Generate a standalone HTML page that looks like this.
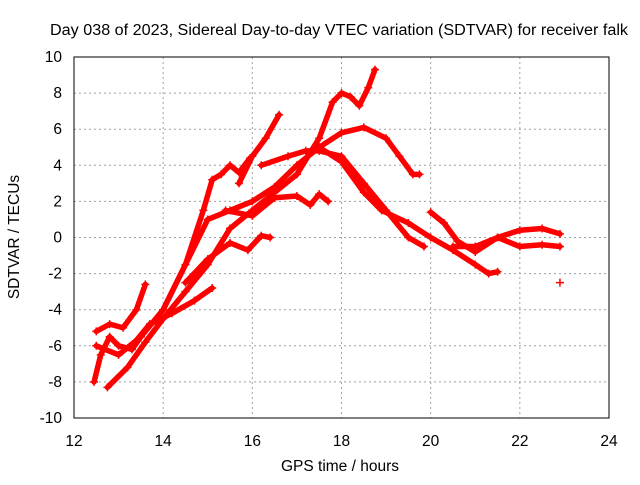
<!DOCTYPE html>
<html><head><meta charset="utf-8"><style>
body{margin:0;background:#fff}
svg text{font-family:"Liberation Sans",sans-serif;font-size:15.5px;fill:#000}
</style></head><body>
<svg id="chart" width="640" height="480" xmlns="http://www.w3.org/2000/svg">
<rect width="640" height="480" fill="#fff"/>
<text x="50" y="35" textLength="578" lengthAdjust="spacingAndGlyphs">Day 038 of 2023, Sidereal Day-to-day VTEC variation (SDTVAR) for receiver falk</text>
<text x="340" y="471" text-anchor="middle">GPS time / hours</text>
<text transform="translate(19,237) rotate(-90)" text-anchor="middle">SDTVAR / TECUs</text>
<g id="grid"></g>
<g id="ticks"></g>
<g id="series"></g>
<rect x="74" y="57" width="535" height="361" fill="none" stroke="#000" stroke-width="1"/>
</svg>
<script>
const xTicks=[12,14,16,18,20,22,24];
const yTicks=[-10,-8,-6,-4,-2,0,2,4,6,8,10];
const s1=[[12.75,-8.3],[13.2,-7.2],[13.6,-5.8],[14,-4.5],[14.5,-3],[15,-1.5],[15.5,0.5],[16,1.5],[16.5,2.5],[17,3.5],[17.5,5.5],[17.8,7.5],[18,8],[18.2,7.8],[18.4,7.3],[18.6,8.3],[18.75,9.3]];
const s2=[[12.5,-6],[13,-6.5],[13.5,-5.5],[14,-4],[14.5,-1.5],[15,1],[15.5,1.5],[16,2],[16.5,2.8],[17,4],[17.5,5],[18,5.8],[18.5,6.1],[19,5.5],[19.3,4.5],[19.6,3.5],[19.75,3.5]];
const s3=[[14,-4],[14.5,-1.5],[14.9,1.5],[15.1,3.2],[15.3,3.5],[15.5,4],[15.7,3.6],[15.95,4.4]];
const s4=[[15.7,3],[16,4.5],[16.3,5.5],[16.6,6.8]];
const s5=[[15.4,1.5],[16,1.2],[16.5,2.2],[17,2.3],[17.3,1.8],[17.5,2.4],[17.7,2]];
const s6=[[14.5,-2.5],[15,-1.2],[15.5,-0.3],[15.9,-0.7],[16.2,0.1],[16.4,0]];
const s7=[[13.3,-6],[13.7,-4.8],[14.2,-4.2],[14.7,-3.5],[15.1,-2.8]];
const s8=[[16.2,4],[16.8,4.5],[17.2,4.8],[17.5,4.8],[18,4.5],[18.5,3],[19,1.5],[19.5,0],[19.85,-0.5]];
const s9=[[17.5,5],[18,4.2],[18.5,2.5],[18.9,1.5],[19.5,0.8],[20,0],[20.5,-0.7],[21,-1.5],[21.3,-2],[21.5,-1.9]];
const s10=[[20,1.4],[20.3,0.8],[20.6,-0.2],[21,-0.8],[21.5,0],[22,0.4],[22.5,0.5],[22.9,0.2]];
const s11=[[20.5,-0.5],[21,-0.5],[21.5,0],[22,-0.5],[22.5,-0.4],[22.9,-0.5]];
const s12=[[12.45,-8],[12.6,-6.5],[12.8,-5.5],[13,-6],[13.3,-6.2],[13.5,-5.5]];
const s13=[[12.5,-5.2],[12.8,-4.8],[13.1,-5],[13.4,-4],[13.6,-2.6]];
const s14=[[22.9,-2.5]];
const allSeries=[s1,s2,s3,s4,s5,s6,s7,s8,s9,s10,s11,s12,s13,s14];
const NS="http://www.w3.org/2000/svg";
const X0=74,X1=609,Y0=418,Y1=57;
const xs=v=>X0+(v-12)/12*(X1-X0);
const ys=v=>Y0-(v+10)/20*(Y0-Y1);
const grid=document.getElementById('grid'),ticks=document.getElementById('ticks'),ser=document.getElementById('series');
function mk(t,a,p){const e=document.createElementNS(NS,t);for(const k in a)e.setAttribute(k,a[k]);p.appendChild(e);return e;}
xTicks.forEach(v=>{const x=xs(v);
 if(v>12&&v<24){const l=mk('line',{x1:x,x2:x,y1:Y1,y2:Y0,stroke:'#a0a0a0','stroke-dasharray':'2,3'},grid);
 
 }
 const t=mk('text',{x:x,y:Y0+28,'text-anchor':'middle'},ticks);t.textContent=v;
 
 });
yTicks.forEach(v=>{const y=ys(v);
 if(v>-10&&v<10){const l=mk('line',{x1:X0,x2:X1,y1:y,y2:y,stroke:'#a0a0a0','stroke-dasharray':'2,3'},grid);
 
 }
 const t=mk('text',{x:X0-12,y:y+5,'text-anchor':'end'},ticks);t.textContent=v;
 
 });
allSeries.forEach((s,i)=>{
 const pts=s.map(p=>xs(p[0])+','+ys(p[1])).join(' ');
 const pl=mk('polyline',{points:pts,fill:'none',stroke:'#ff0000','stroke-width':5.5,'stroke-linejoin':'round','stroke-linecap':'round'},ser);
 
 
 s.forEach(p=>{const x=xs(p[0]),y=ys(p[1]);
  const m=mk('path',{d:`M${x-4},${y}H${x+4}M${x},${y-4}V${y+4}`,stroke:'#ff0000','stroke-width':1.5},ser);
  
  });
});
</script>
</body></html>
